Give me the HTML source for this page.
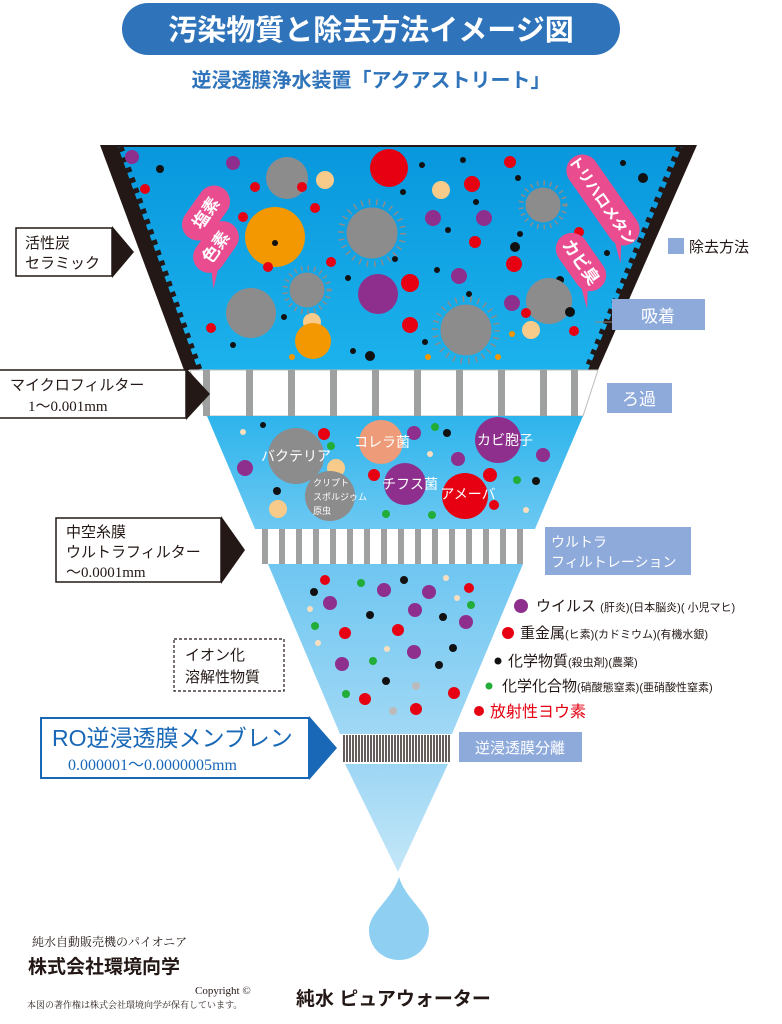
<!DOCTYPE html>
<html><head><meta charset="utf-8"><style>
html,body{margin:0;padding:0;background:#fff;}
svg{display:block;font-family:"Liberation Sans","Noto Sans CJK JP",sans-serif;}
</style></head><body>
<svg width="782" height="1024" viewBox="0 0 782 1024" xmlns="http://www.w3.org/2000/svg">
<defs>
<linearGradient id="g1" x1="0" y1="0" x2="0" y2="1"><stop offset="0" stop-color="#0897dd"/><stop offset="1" stop-color="#1cb2ec"/></linearGradient>
<linearGradient id="g2" x1="0" y1="0" x2="0" y2="1"><stop offset="0" stop-color="#2db4ec"/><stop offset="1" stop-color="#6cc8f2"/></linearGradient>
<linearGradient id="g3" x1="0" y1="0" x2="0" y2="1"><stop offset="0" stop-color="#6ec6f1"/><stop offset="1" stop-color="#a0d8f5"/></linearGradient>
<linearGradient id="g4" x1="0" y1="0" x2="0" y2="1"><stop offset="0" stop-color="#9dd6f4"/><stop offset="1" stop-color="#c4e7f8"/></linearGradient>
</defs>

<!-- title -->
<rect x="122" y="3" width="498" height="52" rx="26" fill="#2f74bb"/>
<text x="371" y="40" text-anchor="middle" font-size="29" font-weight="bold" fill="#fff">汚染物質と除去方法イメージ図</text>
<text x="371" y="87" text-anchor="middle" font-size="20" font-weight="bold" fill="#2f74bb">逆浸透膜浄水装置「アクアストリート」</text>

<!-- top section -->
<polygon points="100,145 697,145 598,370 184,370" fill="#231815"/>
<polygon points="118,147 682,147 588,370 198,370" fill="url(#g1)"/>
<line x1="120" y1="147" x2="199" y2="370" stroke="#231815" stroke-width="7" stroke-dasharray="5 6"/>
<line x1="680" y1="147" x2="587" y2="370" stroke="#231815" stroke-width="7" stroke-dasharray="5 6"/>

<!-- top particles -->
<g>
<circle cx="132" cy="157" r="7" fill="#8e2f8d"/><circle cx="233" cy="163" r="7" fill="#8e2f8d"/>
<circle cx="160" cy="169" r="4" fill="#111"/><circle cx="145" cy="189" r="5" fill="#e60012"/>
<circle cx="255" cy="187" r="5" fill="#e60012"/><circle cx="243" cy="217" r="5" fill="#e60012"/>
<circle cx="287" cy="178" r="21" fill="#8c8c8c"/><circle cx="389" cy="168" r="19" fill="#e60012"/>
<circle cx="325" cy="180" r="9" fill="#f9cb8b"/><circle cx="441" cy="190" r="9" fill="#f9cb8b"/>
<circle cx="403" cy="192" r="3" fill="#111"/><circle cx="422" cy="165" r="3" fill="#111"/>
<circle cx="463" cy="160" r="3" fill="#111"/><circle cx="510" cy="162" r="6" fill="#e60012"/>
<circle cx="518" cy="178" r="3" fill="#111"/><circle cx="472" cy="184" r="8" fill="#e60012"/>
<circle cx="433" cy="218" r="8" fill="#8e2f8d"/><circle cx="484" cy="218" r="8" fill="#8e2f8d"/>
<circle cx="476" cy="202" r="3" fill="#111"/><circle cx="448" cy="230" r="3" fill="#111"/>
<circle cx="475" cy="242" r="6" fill="#e60012"/><circle cx="520" cy="234" r="3" fill="#111"/>
<circle cx="623" cy="163" r="3" fill="#111"/><circle cx="643" cy="178" r="5" fill="#111"/>
<circle cx="579" cy="232" r="5" fill="#e60012"/><circle cx="514" cy="264" r="8" fill="#e60012"/>
<circle cx="515" cy="247" r="5" fill="#111"/><circle cx="607" cy="253" r="3" fill="#111"/>
<circle cx="560" cy="280" r="4" fill="#111"/>
<circle cx="315" cy="208" r="5" fill="#e60012"/><circle cx="302" cy="187" r="5" fill="#e60012"/>
<circle cx="275" cy="237" r="30" fill="#f39800"/><circle cx="275" cy="243" r="3" fill="#111"/>
<circle cx="268" cy="267" r="5" fill="#e60012"/><circle cx="331" cy="262" r="5" fill="#e60012"/>
<circle cx="395" cy="259" r="3" fill="#111"/><circle cx="410" cy="283" r="9" fill="#e60012"/>
<circle cx="348" cy="278" r="3" fill="#111"/><circle cx="437" cy="270" r="3" fill="#111"/>
<circle cx="459" cy="276" r="8" fill="#8e2f8d"/><circle cx="469" cy="294" r="3" fill="#111"/>
<circle cx="378" cy="294" r="20" fill="#8e2f8d"/><circle cx="512" cy="303" r="8" fill="#8e2f8d"/>
<circle cx="251" cy="313" r="25" fill="#8c8c8c"/><circle cx="549" cy="301" r="23" fill="#8c8c8c"/>
<circle cx="570" cy="312" r="5" fill="#111"/><circle cx="574" cy="331" r="5" fill="#e60012"/>
<circle cx="526" cy="313" r="5" fill="#e60012"/><circle cx="531" cy="330" r="9" fill="#f9cb8b"/>
<circle cx="312" cy="322" r="9" fill="#f9cb8b"/><circle cx="313" cy="341" r="18" fill="#f39800"/>
<circle cx="284" cy="317" r="3" fill="#111"/><circle cx="211" cy="328" r="5" fill="#e60012"/>
<circle cx="233" cy="345" r="3" fill="#111"/><circle cx="410" cy="325" r="8" fill="#e60012"/>
<circle cx="425" cy="342" r="3" fill="#111"/><circle cx="353" cy="351" r="3" fill="#111"/>
<circle cx="370" cy="356" r="5" fill="#111"/><circle cx="292" cy="357" r="3" fill="#f39800"/>
<circle cx="428" cy="357" r="3" fill="#f39800"/><circle cx="498" cy="357" r="3" fill="#f39800"/>
<circle cx="512" cy="334" r="3" fill="#f39800"/>
</g>
<!-- spiky -->
<g fill="#8c8c8c" stroke="#8c8c8c">
<circle cx="372" cy="233" r="25"/><circle cx="372" cy="233" r="31" fill="none" stroke-width="6" stroke-dasharray="1.5 6"/>
<circle cx="543" cy="205" r="17"/><circle cx="543" cy="205" r="22" fill="none" stroke-width="5" stroke-dasharray="1.5 5"/>
<circle cx="307" cy="290" r="17"/><circle cx="307" cy="290" r="22" fill="none" stroke-width="5" stroke-dasharray="1.5 5"/>
<circle cx="466" cy="330" r="25"/><circle cx="466" cy="330" r="31" fill="none" stroke-width="6" stroke-dasharray="1.5 6"/>
</g>
<!-- pink labels -->
<g fill="#e94d8f" font-weight="bold" font-size="17">
<g transform="translate(206,213) rotate(-55)"><rect x="-30" y="-16" width="60" height="32" rx="16"/><polygon points="-24,10 -38,22 -18,14"/><text x="0" y="6" text-anchor="middle" fill="#fff">塩素</text></g>
<g transform="translate(216,247) rotate(-55)"><rect x="-28" y="-16" width="56" height="32" rx="16"/><polygon points="-22,10 -36,22 -16,14"/><text x="0" y="6" text-anchor="middle" fill="#fff">色素</text></g>
<g transform="translate(603,200) rotate(55)"><rect x="-52" y="-16" width="104" height="32" rx="16"/><polygon points="46,10 62,22 40,14"/><text x="0" y="6" text-anchor="middle" fill="#fff" font-size="15">トリハロメタン</text></g>
<g transform="translate(581,262) rotate(55)"><rect x="-32" y="-16" width="64" height="32" rx="16"/><polygon points="26,10 42,22 20,14"/><text x="0" y="6" text-anchor="middle" fill="#fff">カビ臭</text></g>
</g>

<!-- micro filter -->
<polygon points="190,370 598,370 583,416 207,416" fill="#fff" stroke="#bbb" stroke-width="1"/>
<g fill="#9fa0a0">
<rect x="203" y="370" width="7" height="46"/><rect x="246" y="370" width="7" height="46"/><rect x="288" y="370" width="7" height="46"/>
<rect x="330" y="370" width="7" height="46"/><rect x="372" y="370" width="7" height="46"/><rect x="414" y="370" width="7" height="46"/>
<rect x="456" y="370" width="7" height="46"/><rect x="498" y="370" width="7" height="46"/><rect x="540" y="370" width="7" height="46"/>
<rect x="571" y="370" width="7" height="46"/>
</g>

<!-- section 2 -->
<polygon points="207,416 583,416 535,529 255,529" fill="url(#g2)"/>
<g>
<circle cx="263" cy="425" r="3" fill="#111"/><circle cx="243" cy="432" r="3" fill="#f9dfc0"/>
<circle cx="324" cy="434" r="6" fill="#e60012"/><circle cx="331" cy="446" r="4" fill="#22ac38"/>
<circle cx="245" cy="468" r="8" fill="#8e2f8d"/><circle cx="336" cy="468" r="9" fill="#f9cb8b"/>
<circle cx="277" cy="491" r="4" fill="#111"/><circle cx="278" cy="509" r="9" fill="#f9cb8b"/>
<circle cx="374" cy="475" r="6" fill="#e60012"/><circle cx="414" cy="433" r="7" fill="#8e2f8d"/>
<circle cx="435" cy="427" r="4" fill="#22ac38"/><circle cx="447" cy="433" r="4" fill="#111"/>
<circle cx="430" cy="454" r="3" fill="#f9dfc0"/><circle cx="458" cy="459" r="7" fill="#8e2f8d"/>
<circle cx="490" cy="475" r="7" fill="#e60012"/><circle cx="494" cy="505" r="5" fill="#e60012"/>
<circle cx="386" cy="514" r="4" fill="#22ac38"/><circle cx="432" cy="515" r="4" fill="#22ac38"/>
<circle cx="517" cy="480" r="4" fill="#22ac38"/><circle cx="536" cy="481" r="4" fill="#111"/>
<circle cx="543" cy="455" r="7" fill="#8e2f8d"/><circle cx="526" cy="510" r="3" fill="#f9dfc0"/>
<circle cx="296" cy="456" r="28" fill="#8c8c8c"/><circle cx="330" cy="496" r="25" fill="#8c8c8c"/>
<circle cx="381" cy="442" r="22" fill="#ee9b7a"/><circle cx="405" cy="484" r="21" fill="#8e2f8d"/>
<circle cx="465" cy="496" r="23" fill="#e60012"/><circle cx="498" cy="440" r="23" fill="#8e2f8d"/>
</g>
<g fill="#fff" font-size="14">
<text x="296" y="461" text-anchor="middle">バクテリア</text>
<text x="382" y="447" text-anchor="middle">コレラ菌</text>
<text x="410" y="489" text-anchor="middle">チフス菌</text>
<text x="468" y="499" text-anchor="middle">アメーバ</text>
<text x="505" y="445" text-anchor="middle">カビ胞子</text>
<text x="313" y="486" font-size="9">クリプト</text>
<text x="313" y="500" font-size="9">スポルジゥム</text>
<text x="313" y="514" font-size="9">原虫</text>
</g>

<!-- UF filter -->
<polygon points="255,529 535,529 523,564 268,564" fill="#fff"/>
<g fill="#9fa0a0">
<rect x="262" y="529" width="6" height="35"/><rect x="279" y="529" width="6" height="35"/><rect x="296" y="529" width="6" height="35"/>
<rect x="313" y="529" width="6" height="35"/><rect x="330" y="529" width="6" height="35"/><rect x="347" y="529" width="6" height="35"/>
<rect x="364" y="529" width="6" height="35"/><rect x="381" y="529" width="6" height="35"/><rect x="398" y="529" width="6" height="35"/>
<rect x="415" y="529" width="6" height="35"/><rect x="432" y="529" width="6" height="35"/><rect x="449" y="529" width="6" height="35"/>
<rect x="466" y="529" width="6" height="35"/><rect x="483" y="529" width="6" height="35"/><rect x="500" y="529" width="6" height="35"/>
<rect x="517" y="529" width="6" height="35"/>
</g>

<!-- section 3 -->
<polygon points="268,564 523,564 452,734 340,734" fill="url(#g3)"/>
<g>
<circle cx="325" cy="580" r="5" fill="#e60012"/><circle cx="314" cy="592" r="4" fill="#111"/>
<circle cx="361" cy="583" r="4" fill="#22ac38"/><circle cx="384" cy="590" r="7" fill="#8e2f8d"/>
<circle cx="404" cy="580" r="4" fill="#111"/><circle cx="429" cy="592" r="7" fill="#8e2f8d"/>
<circle cx="446" cy="578" r="3" fill="#f9dfc0"/><circle cx="469" cy="588" r="5" fill="#e60012"/>
<circle cx="330" cy="603" r="7" fill="#8e2f8d"/><circle cx="310" cy="609" r="3" fill="#f9dfc0"/>
<circle cx="457" cy="598" r="3" fill="#f9dfc0"/><circle cx="471" cy="605" r="4" fill="#22ac38"/>
<circle cx="415" cy="610" r="7" fill="#8e2f8d"/><circle cx="370" cy="615" r="4" fill="#111"/>
<circle cx="443" cy="617" r="4" fill="#111"/><circle cx="466" cy="622" r="7" fill="#8e2f8d"/>
<circle cx="315" cy="626" r="4" fill="#22ac38"/><circle cx="345" cy="633" r="6" fill="#e60012"/>
<circle cx="398" cy="630" r="6" fill="#e60012"/><circle cx="318" cy="643" r="3" fill="#f9dfc0"/>
<circle cx="387" cy="649" r="3" fill="#f9dfc0"/><circle cx="414" cy="652" r="7" fill="#8e2f8d"/>
<circle cx="453" cy="648" r="4" fill="#111"/><circle cx="373" cy="661" r="4" fill="#22ac38"/>
<circle cx="342" cy="664" r="7" fill="#8e2f8d"/><circle cx="439" cy="665" r="4" fill="#111"/>
<circle cx="386" cy="681" r="4" fill="#111"/><circle cx="416" cy="686" r="4" fill="#bbb"/>
<circle cx="346" cy="694" r="4" fill="#22ac38"/><circle cx="365" cy="699" r="6" fill="#e60012"/>
<circle cx="454" cy="693" r="6" fill="#e60012"/><circle cx="393" cy="711" r="4" fill="#bbb"/>
<circle cx="416" cy="709" r="6" fill="#e60012"/>
</g>

<!-- RO membrane -->
<polygon points="340,734 452,734 448,764 345,764" fill="#fff"/>
<line x1="342" y1="736" x2="450" y2="736" stroke="#231815" stroke-width="54" stroke-dasharray="0" opacity="0"/>
<g stroke="#231815" stroke-width="1.4">
<path d="M344 735V762M347 735V762M350 735V762M353 735V762M356 735V762M359 735V762M362 735V762M365 735V762M368 735V762M371 735V762M374 735V762M377 735V762M380 735V762M383 735V762M386 735V762M389 735V762M392 735V762M395 735V762M398 735V762M401 735V762M404 735V762M407 735V762M410 735V762M413 735V762M416 735V762M419 735V762M422 735V762M425 735V762M428 735V762M431 735V762M434 735V762M437 735V762M440 735V762M443 735V762M446 735V762M449 735V762"/>
</g>
<polygon points="345,764 448,764 398,872" fill="url(#g4)"/>

<!-- drop -->
<path d="M399,877 C392,900 369,912 369,930 C369,948 383,960 399,960 C415,960 429,948 429,930 C429,912 406,900 399,877Z" fill="#8fd0f2"/>

<!-- left labels -->
<g fill="#231815">
<rect x="16" y="228" width="96" height="48" fill="#fff" stroke="#231815" stroke-width="1.5"/>
<polygon points="112,226 134,252 112,278"/>
<text x="25" y="248" font-size="15">活性炭</text><text x="25" y="268" font-size="15">セラミック</text>

<rect x="-2" y="370" width="188" height="48" fill="#fff" stroke="#231815" stroke-width="1.5"/>
<polygon points="186,368 210,394 186,420"/>
<text x="10" y="390" font-size="15">マイクロフィルター</text>
<text x="28" y="411" font-size="15" font-family="Liberation Serif,serif">1〜0.001mm</text>

<rect x="56" y="518" width="165" height="64" fill="#fff" stroke="#231815" stroke-width="1.5"/>
<polygon points="221,516 245,550 221,584"/>
<text x="66" y="537" font-size="15">中空糸膜</text>
<text x="66" y="557" font-size="15">ウルトラフィルター</text>
<text x="66" y="577" font-size="15" font-family="Liberation Serif,serif">〜0.0001mm</text>

<rect x="174" y="639" width="110" height="52" fill="#fff" stroke="#231815" stroke-width="1.2" stroke-dasharray="3 2"/>
<text x="185" y="660" font-size="15">イオン化</text><text x="185" y="682" font-size="15">溶解性物質</text>
</g>
<rect x="41" y="718" width="268" height="60" fill="#fff" stroke="#1868b7" stroke-width="2"/>
<polygon points="309,716 337,748 309,780" fill="#1868b7"/>
<text x="52" y="746" font-size="23" fill="#1868b7">RO逆浸透膜メンブレン</text>
<text x="68" y="770" font-size="16" fill="#1868b7" font-family="Liberation Serif,serif">0.000001〜0.0000005mm</text>

<!-- right labels -->
<rect x="668" y="238" width="16" height="16" fill="#8eaadb"/>
<text x="689" y="252" font-size="15" fill="#231815">除去方法</text>
<line x1="595" y1="322" x2="640" y2="322" stroke="#888" stroke-width="1"/>
<rect x="612" y="299" width="93" height="31" fill="#8eaadb"/>
<text x="658" y="322" text-anchor="middle" font-size="17" fill="#fff">吸着</text>
<rect x="607" y="383" width="65" height="30" fill="#8eaadb"/>
<text x="639" y="405" text-anchor="middle" font-size="17" fill="#fff">ろ過</text>
<rect x="545" y="527" width="146" height="48" fill="#8eaadb"/>
<text x="551" y="547" font-size="14" fill="#fff">ウルトラ</text>
<text x="551" y="567" font-size="14" fill="#fff">フィルトレーション</text>
<rect x="459" y="732" width="123" height="30" fill="#8eaadb"/>
<text x="520" y="753" text-anchor="middle" font-size="15" fill="#fff">逆浸透膜分離</text>

<!-- legend -->
<g fill="#231815" font-size="15">
<circle cx="521" cy="606" r="7" fill="#8e2f8d"/><text x="536" y="611">ウイルス <tspan font-size="11">(肝炎)(日本脳炎)( 小児マヒ)</tspan></text>
<circle cx="508" cy="633" r="6" fill="#e60012"/><text x="520" y="638">重金属<tspan font-size="11">(ヒ素)(カドミウム)(有機水銀)</tspan></text>
<circle cx="498" cy="661" r="3.5" fill="#111"/><text x="508" y="666">化学物質<tspan font-size="11">(殺虫剤)(農薬)</tspan></text>
<circle cx="489" cy="686" r="3.5" fill="#22ac38"/><text x="502" y="691">化学化合物<tspan font-size="11">(硝酸態窒素)(亜硝酸性窒素)</tspan></text>
<circle cx="479" cy="711" r="5" fill="#e60012"/><text x="490" y="717" fill="#e60012" font-size="16">放射性ヨウ素</text>
</g>

<!-- bottom -->
<g fill="#231815">
<text x="32" y="946" font-size="12" font-family="Liberation Serif,'Noto Serif CJK SC',serif">純水自動販売機のパイオニア</text>
<text x="28" y="973" font-size="19" font-weight="bold">株式会社環境向学</text>
<text x="195" y="994" font-size="11" font-family="Liberation Serif,'Noto Serif CJK SC',serif">Copyright ©</text>
<text x="27" y="1008" font-size="9" font-family="Liberation Serif,'Noto Serif CJK SC',serif">本図の著作権は株式会社環境向学が保有しています。</text>
<text x="296" y="1005" font-size="19" font-weight="bold">純水 ピュアウォーター</text>
</g>
</svg>
</body></html>
